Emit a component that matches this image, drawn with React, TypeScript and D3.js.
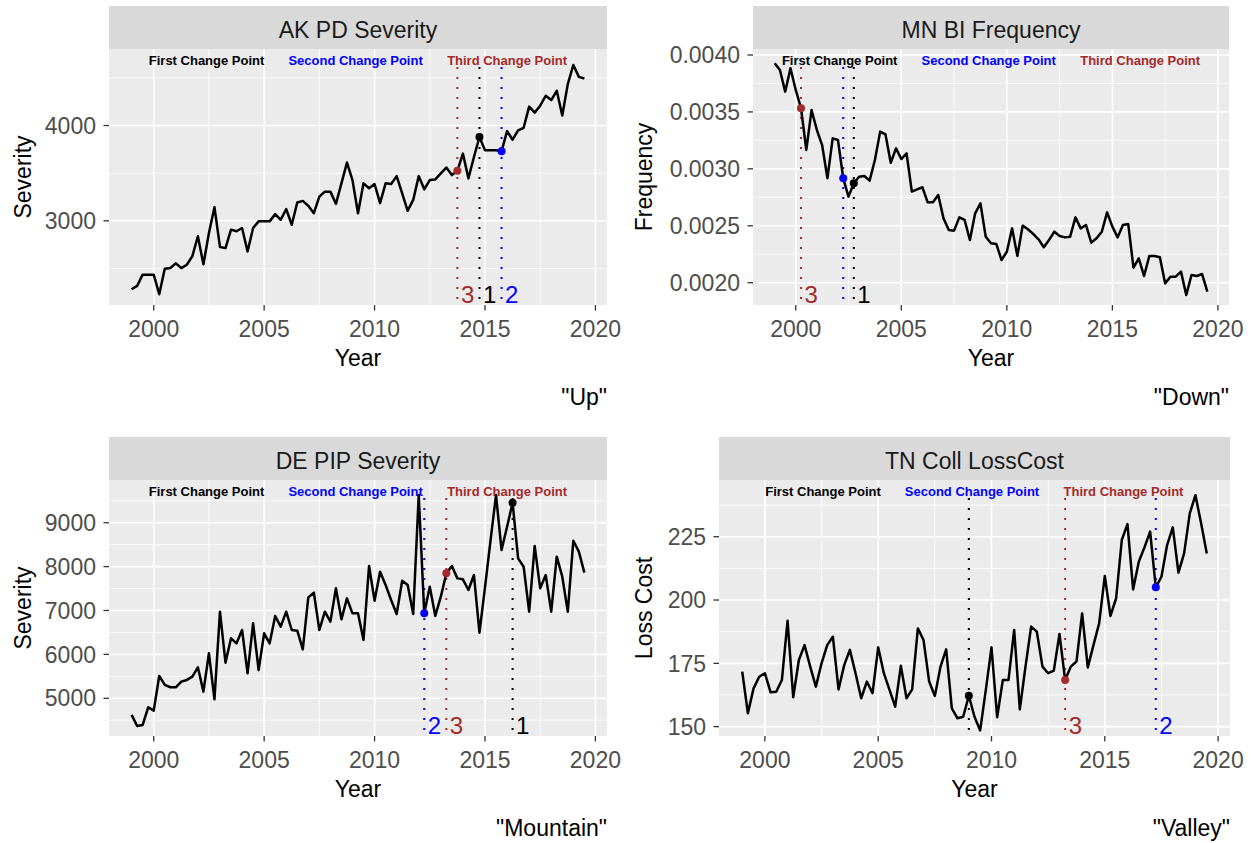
import React from "react";
import * as d3 from "d3";

// Quarterly observation dates, 1999 Q1 .. 2019 Q3
const quarters: number[] = d3.range(83).map((i) => 1999 + i / 4);

const akPdSeverity = [
  2282, 2317, 2435, 2435, 2435, 2230, 2498, 2504, 2553, 2504,
  2539, 2629, 2838, 2543, 2872, 3143, 2726, 2713, 2907, 2890,
  2924, 2678, 2924, 2994, 2994, 2994, 3070, 3011, 3122, 2959,
  3192, 3209, 3157, 3080, 3254, 3306, 3306, 3178, 3393, 3611,
  3427, 3080, 3393, 3341, 3386, 3185, 3393, 3386, 3469, 3289,
  3105, 3219, 3469, 3330, 3427, 3434, 3497, 3559, 3480, 3525,
  3705, 3445, 3670, 3879, 3740, 3740, 3740, 3729, 3941, 3851,
  3948, 3976, 4198, 4135, 4208, 4312, 4267, 4364, 4104, 4434,
  4635, 4510, 4493,
];

const mnBiFrequency = [
  0.003927, 0.003868, 0.003678, 0.003883, 0.003693, 0.003532, 0.003166, 0.003517, 0.003341, 0.003209,
  0.002917, 0.003268, 0.003253, 0.002917, 0.002756, 0.002873, 0.002931, 0.002937, 0.002896, 0.003078,
  0.003327, 0.003303, 0.003054, 0.00318, 0.003086, 0.003136, 0.0028, 0.00282, 0.002838, 0.002706,
  0.002706, 0.00277, 0.002565, 0.002463, 0.002457, 0.002574, 0.002551, 0.002375, 0.002609, 0.002697,
  0.002404, 0.002346, 0.00234, 0.002199, 0.002272, 0.002477, 0.002234, 0.002501, 0.002469, 0.002428,
  0.002381, 0.002311, 0.002375, 0.002448, 0.00241, 0.002398, 0.002404, 0.002574, 0.002477, 0.002507,
  0.002352, 0.00239, 0.002448, 0.002618, 0.002492, 0.002398, 0.002507, 0.002516, 0.002132, 0.002214,
  0.002059, 0.002234, 0.002234, 0.002223, 0.001994, 0.002053, 0.002053, 0.002097, 0.001892, 0.002068,
  0.002059, 0.002076, 0.001921,
];

const dePipSeverity = [
  4621, 4370, 4393, 4795, 4719, 5509, 5304, 5251, 5251, 5380,
  5418, 5493, 5706, 5152, 6025, 4977, 6973, 5812, 6366, 6252,
  6556, 5569, 6708, 5645, 6480, 6252, 6875, 6632, 6973, 6556,
  6541, 6116, 7300, 7406, 6556, 6973, 6746, 7505, 6799, 7277,
  6935, 6935, 6328, 8013, 7224, 7884, 7581, 7239, 6920, 7679,
  7581, 6920, 9630, 6935, 7543, 6875, 7315, 7846, 8013, 7732,
  7710, 7467, 7808, 6495, 7520, 8590, 9630, 8378, 8909, 9455,
  8188, 7998, 6973, 8469, 7505, 7808, 6973, 8226, 7770, 6973,
  8590, 8340, 7862,
];

const tnCollLossCost = [
  171.7, 155.3, 165.1, 169.7, 171.1, 163.6, 163.8, 168.4, 191.8, 161.6,
  176.3, 182.2, 173.7, 165.8, 175.0, 182.2, 185.5, 164.7, 174.3, 180.3,
  171.1, 161.2, 167.8, 163.2, 181.3, 171.1, 164.5, 157.9, 174.0, 161.2,
  164.7, 188.8, 184.2, 167.8, 162.1, 173.7, 180.5, 157.2, 153.3, 153.9,
  162.2, 153.9, 148.5, 164.5, 181.3, 153.7, 168.4, 168.4, 188.2, 156.8,
  173.7, 189.5, 187.5, 173.7, 171.1, 172.1, 186.6, 168.4, 173.7, 175.7,
  194.7, 173.4, 182.2, 190.8, 209.5, 193.7, 200.7, 223.7, 230.0, 204.2,
  215.1, 220.8, 227.0, 205.0, 209.2, 221.7, 228.7, 210.8, 218.4, 234.2,
  241.4, 230.3, 218.4,
];

const panelTitles = ["AK PD Severity", "MN BI Frequency", "DE PIP Severity", "TN Coll LossCost"];
const yAxisTitles = ["Severity", "Frequency", "Severity", "Loss Cost"];
const captions = ['"Up"', '"Down"', '"Mountain"', '"Valley"'];
const xTickValues = [2000, 2005, 2010, 2015, 2020];
const yTickValues = [
  [3000, 4000],
  [0.002, 0.0025, 0.003, 0.0035, 0.004],
  [5000, 6000, 7000, 8000, 9000],
  [150, 175, 200, 225],
];

// change points (quarter dates)
const firstChange = [2014.75, 2002.75, 2016.25, 2009.0];
const secondChange = [2015.75, 2002.25, 2012.25, 2017.25];
const thirdChange = [2013.75, 2000.25, 2013.25, 2013.25];
const showNumber = [
  [true, true, true],
  [true, false, true],
  [true, true, true],
  [false, true, true],
];
const changeNames = ["First Change Point", "Second Change Point", "Third Change Point"];
const changeNumbers = ["1", "2", "3"];
const changeColors = ["#000000", "#0000FF", "#A52A2A"];

const seriesList = [akPdSeverity, mnBiFrequency, dePipSeverity, tnCollLossCost];

// ----- layout (pixels) -----
const xDomain: [number, number] = [1997.975, 2020.525];
const layout = [
  { left: 109, right: 607, top: 49, bottom: 305, yDomain: [2116.5, 4802.7], yTitleX: 31, fmt: d3.format("d") },
  { left: 753, right: 1229, top: 49, bottom: 305, yDomain: [0.001804, 0.0040527], yTitleX: 652, fmt: d3.format(".4f") },
  { left: 109, right: 607, top: 480, bottom: 736, yDomain: [4141, 9973], yTitleX: 31, fmt: d3.format("d") },
  { left: 719, right: 1230, top: 480, bottom: 736, yDomain: [146.3, 247.4], yTitleX: 652, fmt: d3.format("d") },
];
const STRIP_H = 43;
const FONT = "'Liberation Sans', Arial, Helvetica, sans-serif";

function Panel({ idx }: { idx: number }) {
  const L = layout[idx];
  const values = seriesList[idx];
  const x = d3.scaleLinear().domain(xDomain).range([L.left, L.right]);
  const y = d3.scaleLinear().domain(L.yDomain).range([L.bottom, L.top]);
  const line = d3
    .line<number>()
    .x((_, i) => x(quarters[i]))
    .y((v) => y(v));

  const yMajor = yTickValues[idx];
  const step = yMajor[1] - yMajor[0];
  const yMinor = [yMajor[0] - step / 2, ...yMajor.map((v) => v + step / 2)].filter(
    (v) => v > L.yDomain[0] && v < L.yDomain[1]
  );
  const xMinor = [1997.5, 2002.5, 2007.5, 2012.5, 2017.5, 2022.5].filter(
    (v) => v > xDomain[0] && v < xDomain[1]
  );

  const cps = [firstChange[idx], secondChange[idx], thirdChange[idx]];
  const cx = (L.left + L.right) / 2;
  const secondLabelX = x(2009.14);
  const labelXs = [secondLabelX - 149, secondLabelX, secondLabelX + 151.5];

  return (
    <g>
      {/* strip */}
      <rect x={L.left} y={L.top - STRIP_H} width={L.right - L.left} height={STRIP_H} fill="#D9D9D9" />
      <text x={cx} y={L.top - 11} textAnchor="middle" fontSize={23} fill="#1A1A1A">
        {panelTitles[idx]}
      </text>
      {/* panel */}
      <rect x={L.left} y={L.top} width={L.right - L.left} height={L.bottom - L.top} fill="#EBEBEB" />
      {yMinor.map((v) => (
        <line key={"ym" + v} x1={L.left} x2={L.right} y1={y(v)} y2={y(v)} stroke="#fff" strokeWidth={0.8} />
      ))}
      {xMinor.map((v) => (
        <line key={"xm" + v} x1={x(v)} x2={x(v)} y1={L.top} y2={L.bottom} stroke="#fff" strokeWidth={0.8} />
      ))}
      {yMajor.map((v) => (
        <line key={"yM" + v} x1={L.left} x2={L.right} y1={y(v)} y2={y(v)} stroke="#fff" strokeWidth={1.6} />
      ))}
      {xTickValues.map((v) => (
        <line key={"xM" + v} x1={x(v)} x2={x(v)} y1={L.top} y2={L.bottom} stroke="#fff" strokeWidth={1.6} />
      ))}
      {/* change point labels at top */}
      {changeNames.map((n, k) => (
        <text
          key={"cn" + k}
          x={labelXs[k]}
          y={L.top + 16}
          textAnchor="middle"
          fontSize={13}
          fontWeight="bold"
          fill={changeColors[k]}
        >
          {n}
        </text>
      ))}
      {/* vertical dotted lines */}
      {cps.map((c, k) => (
        <line
          key={"vl" + k}
          x1={x(c)}
          x2={x(c)}
          y1={L.top + 18}
          y2={L.bottom}
          stroke={changeColors[k]}
          strokeWidth={2}
          strokeDasharray="2 8"
        />
      ))}
      {cps.map((c, k) =>
        showNumber[idx][k] ? (
          <text key={"num" + k} x={x(c) + 3.5} y={L.bottom - 2} fontSize={24} fill={changeColors[k]}>
            {changeNumbers[k]}
          </text>
        ) : null
      )}
      {/* series line */}
      <path d={line(values) || ""} fill="none" stroke="#000" strokeWidth={2.5} strokeLinejoin="round" />
      {cps.map((c, k) => {
        const qi = Math.round((c - 1999) * 4);
        return <circle key={"pt" + k} cx={x(c)} cy={y(values[qi])} r={4} fill={changeColors[k]} />;
      })}
      {/* axes */}
      {xTickValues.map((v) => (
        <g key={"xt" + v}>
          <line x1={x(v)} x2={x(v)} y1={L.bottom} y2={L.bottom + 5.5} stroke="#333" strokeWidth={1.3} />
          <text x={x(v)} y={L.bottom + 32} textAnchor="middle" fontSize={23} fill="#4D4D4D">
            {v}
          </text>
        </g>
      ))}
      {yMajor.map((v) => (
        <g key={"yt" + v}>
          <line x1={L.left - 5.5} x2={L.left} y1={y(v)} y2={y(v)} stroke="#333" strokeWidth={1.3} />
          <text x={L.left - 13} y={y(v) + 8.2} textAnchor="end" fontSize={23} fill="#4D4D4D">
            {L.fmt(v)}
          </text>
        </g>
      ))}
      <text x={cx} y={L.bottom + 61} textAnchor="middle" fontSize={23} fill="#000">
        Year
      </text>
      <text
        transform={`translate(${L.yTitleX},${(L.top + L.bottom) / 2}) rotate(-90)`}
        textAnchor="middle"
        fontSize={23}
        fill="#000"
      >
        {yAxisTitles[idx]}
      </text>
      <text x={L.right} y={L.bottom + 100} textAnchor="end" fontSize={23} fill="#000">
        {captions[idx]}
      </text>
    </g>
  );
}

export default function App() {
  return (
    <svg
      width={1255}
      height={843}
      style={{ position: "absolute", left: 0, top: 0, background: "#fff" }}
      fontFamily={FONT}
    >
      {[0, 1, 2, 3].map((i) => (
        <Panel key={i} idx={i} />
      ))}
    </svg>
  );
}
